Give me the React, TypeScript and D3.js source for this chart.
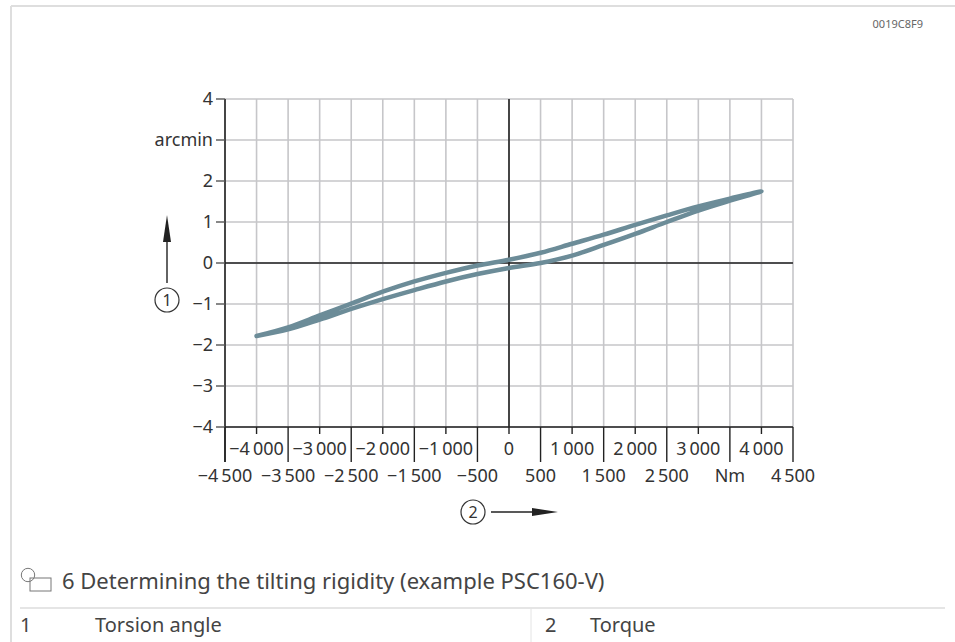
import * as d3 from "d3"
import React from "react"

// torque (Nm) vs torsion angle (arcmin), loading and unloading branch
const torqueUp = [-4000, -3500, -3000, -2500, -2000, -1500, -1000, -500, 0, 500, 1000, 1500, 2000, 2500, 3000, 3500, 4000]
const angleUp = [-1.78, -1.62, -1.38, -1.12, -0.88, -0.66, -0.45, -0.27, -0.12, 0.0, 0.18, 0.44, 0.71, 1.0, 1.28, 1.52, 1.75]
const torqueDown = [4000, 3500, 3000, 2500, 2000, 1500, 1000, 500, 0, -500, -1000, -1500, -2000, -2500, -3000, -3500, -4000]
const angleDown = [1.75, 1.57, 1.38, 1.16, 0.93, 0.69, 0.47, 0.25, 0.08, -0.06, -0.24, -0.45, -0.7, -0.99, -1.28, -1.57, -1.78]

const yTicks = [-4, -3, -2, -1, 0, 1, 2, 3, 4]
const yLabels = ["−4", "−3", "−2", "−1", "0", "1", "2", "arcmin", "4"]
const xMajor = [-4000, -3000, -2000, -1000, 0, 1000, 2000, 3000, 4000]
const xMajorLabels = ["−4\u2009000", "−3\u2009000", "−2\u2009000", "−1\u2009000", "0", "1\u2009000", "2\u2009000", "3\u2009000", "4\u2009000"]
const xHalf = [-4500, -3500, -2500, -1500, -500, 500, 1500, 2500, 3500, 4500]
const xHalfLabels = ["−4\u2009500", "−3\u2009500", "−2\u2009500", "−1\u2009500", "−500", "500", "1\u2009500", "2\u2009500", "Nm", "4\u2009500"]

const font = "'Noto Sans', sans-serif"

const App = () => {
  const width = 955
  const height = 642
  const x = d3.scaleLinear().domain([-4500, 4500]).range([225, 793])
  const y = d3.scaleLinear().domain([-4, 4]).range([427, 99])

  const gridX = d3.range(-4500, 4501, 500)
  const pts = torqueUp
    .map((t, i) => [t, angleUp[i]])
    .concat(torqueDown.map((t, i) => [t, angleDown[i]]).slice(1))
  const line = d3
    .line<number[]>()
    .x((d) => x(d[0]))
    .y((d) => y(d[1]))
    .curve(d3.curveCatmullRom)

  const x0 = x(-4500)
  const x1 = x(4500)
  const yb = y(-4)

  return (
    <svg
      width={width}
      height={height}
      style={{ position: "absolute", left: 0, top: 0, background: "#fff" }}
      fontFamily={font}
    >
      {/* page frame */}
      <line x1={11} x2={955} y1={6} y2={6} stroke="#dedede" strokeWidth={2} />
      <line x1={11} x2={11} y1={6} y2={642} stroke="#dedede" strokeWidth={2} />
      <text x={923} y={28} textAnchor="end" fontSize={11} fill="#666">0019C8F9</text>

      {/* grid */}
      {gridX.map((v) => (
        <line key={"gx" + v} x1={x(v)} x2={x(v)} y1={y(4)} y2={yb} stroke="#c6c6c9" strokeWidth={1.6} />
      ))}
      {yTicks.map((v) => (
        <line key={"gy" + v} x1={x0} x2={x1} y1={y(v)} y2={y(v)} stroke="#c6c6c9" strokeWidth={1.6} />
      ))}

      {/* axes */}
      <line x1={x0} x2={x0} y1={y(4)} y2={yb + 35} stroke="#222" strokeWidth={1.6} />
      <line x1={x0} x2={x1} y1={yb} y2={yb} stroke="#222" strokeWidth={1.6} />
      <line x1={x(0)} x2={x(0)} y1={y(4)} y2={yb} stroke="#222" strokeWidth={1.6} />
      <line x1={x0} x2={x1} y1={y(0)} y2={y(0)} stroke="#222" strokeWidth={1.6} />

      {/* y ticks */}
      {yTicks.map((v, i) => (
        <g key={"yt" + v}>
          <line x1={x0 - 9} x2={x0} y1={y(v)} y2={y(v)} stroke="#555" strokeWidth={1.4} />
          <text x={x0 - 12} y={y(v)} dy="0.36em" textAnchor="end" fontSize={18} fill="#333">
            {yLabels[i]}
          </text>
        </g>
      ))}

      {/* x ticks */}
      {xMajor.map((v, i) => (
        <g key={"xm" + v}>
          <line x1={x(v)} x2={x(v)} y1={yb} y2={yb + 7} stroke="#222" strokeWidth={1.4} />
          <text x={x(v)} y={455} textAnchor="middle" fontSize={18} fill="#333">
            {xMajorLabels[i]}
          </text>
        </g>
      ))}
      {xHalf.map((v, i) => (
        <g key={"xh" + v}>
          <line x1={x(v)} x2={x(v)} y1={yb} y2={yb + 35} stroke="#222" strokeWidth={1.4} />
          <text x={x(v)} y={482} textAnchor="middle" fontSize={18} fill="#333">
            {xHalfLabels[i]}
          </text>
        </g>
      ))}

      {/* curve */}
      <path d={line(pts) || ""} fill="none" stroke="#6c8c98" strokeWidth={4.5} strokeLinecap="round" strokeLinejoin="round" />

      {/* axis markers */}
      <circle cx={167} cy={300} r={12} fill="none" stroke="#333" strokeWidth={1.2} />
      <text x={167} y={300} dy="0.36em" textAnchor="middle" fontSize={16} fill="#333">1</text>
      <line x1={167} x2={167} y1={283} y2={240} stroke="#222" strokeWidth={1.4} />
      <path d="M167,215 L171,242 L163,242 Z" fill="#222" />

      <circle cx={473} cy={512} r={12} fill="none" stroke="#333" strokeWidth={1.2} />
      <text x={473} y={512} dy="0.36em" textAnchor="middle" fontSize={16} fill="#333">2</text>
      <line x1={491} x2={535} y1={512} y2={512} stroke="#222" strokeWidth={1.4} />
      <path d="M558,512 L532,508 L532,516 Z" fill="#222" />

      {/* caption */}
      <g stroke="#777" strokeWidth={1} fill="none">
        <circle cx={28} cy={575} r={6.7} />
        <rect x={30} y={578} width={21} height={13} />
      </g>
      <text x={62} y={589} fontSize={22} fill="#444">6 Determining the tilting rigidity (example PSC160-V)</text>
      <line x1={20} x2={945} y1={608} y2={608} stroke="#ddd" strokeWidth={1.5} />
      <line x1={531} x2={531} y1={608} y2={642} stroke="#e4e4e4" strokeWidth={1} />
      <text x={20} y={632} fontSize={20} fill="#444">1</text>
      <text x={95} y={632} fontSize={20} fill="#444">Torsion angle</text>
      <text x={545} y={632} fontSize={20} fill="#444">2</text>
      <text x={590} y={632} fontSize={20} fill="#444">Torque</text>
    </svg>
  )
}

export default App
